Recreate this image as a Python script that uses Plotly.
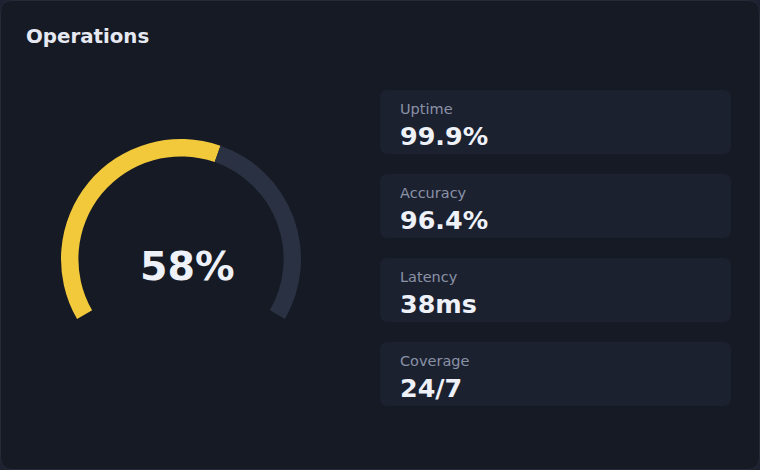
import plotly.graph_objects as go

# ---- data ----
title_text = "Operations"
gauge_value = 58          # percent
gauge_max = 100
stat_labels = ["Uptime", "Accuracy", "Latency", "Coverage"]
stat_values = ["99.9%", "96.4%", "38ms", "24/7"]

# ---- style ----
W, H = 760, 470
PAGE_BG = "#1d2130"
CARD_BG = "#161a24"
CARD_BORDER = "#242a38"
TILE_BG = "#1c2130"
YELLOW = "#f2c93b"
TRACK = "#2a3142"
TITLE_C = "#e6e9f2"
LABEL_C = "#8a92a6"
VALUE_C = "#eef1f8"
FONT = "DejaVu Sans"

SWEEP = 240.0  # degrees of the gauge arc


def px(x):
    return x / W


def py(y):
    return 1 - y / H


def rrect(x0, y0, x1, y1, r):
    # rounded rectangle path in paper coords, given pixel coords
    pts = []
    pts.append(f"M {px(x0 + r)} {py(y0)}")
    pts.append(f"L {px(x1 - r)} {py(y0)}")
    pts.append(f"Q {px(x1)} {py(y0)} {px(x1)} {py(y0 + r)}")
    pts.append(f"L {px(x1)} {py(y1 - r)}")
    pts.append(f"Q {px(x1)} {py(y1)} {px(x1 - r)} {py(y1)}")
    pts.append(f"L {px(x0 + r)} {py(y1)}")
    pts.append(f"Q {px(x0)} {py(y1)} {px(x0)} {py(y1 - r)}")
    pts.append(f"L {px(x0)} {py(y0 + r)}")
    pts.append(f"Q {px(x0)} {py(y0)} {px(x0 + r)} {py(y0)}")
    pts.append("Z")
    return " ".join(pts)


fig = go.Figure()

# gauge as a donut: value, remainder, invisible gap
gap = gauge_max * (360.0 - SWEEP) / SWEEP
cx, cy, R = 181, 259, 120
fig.add_trace(go.Pie(
    values=[gauge_value, gauge_max - gauge_value, gap],
    marker=dict(colors=[YELLOW, TRACK, "rgba(0,0,0,0)"], line=dict(width=0)),
    hole=0.855,
    sort=False,
    direction="clockwise",
    rotation=-SWEEP / 2,
    textinfo="none",
    hoverinfo="skip",
    showlegend=False,
    domain=dict(x=[px(cx - R), px(cx + R)], y=[py(cy + R), py(cy - R)]),
))

shapes = []
# main card
shapes.append(dict(type="path", xref="paper", yref="paper",
                   path=rrect(0.5, 0.5, W - 0.5, H - 0.5, 12),
                   fillcolor=CARD_BG, line=dict(color=CARD_BORDER, width=1),
                   layer="below"))

annotations = []
annotations.append(dict(text=f"<b>{title_text}</b>", x=px(24), y=py(36),
                        xref="paper", yref="paper", xanchor="left", yanchor="middle",
                        showarrow=False, font=dict(family=FONT, size=19.8, color=TITLE_C)))
annotations.append(dict(text=f"<b>{gauge_value}%</b>", x=px(187), y=py(266),
                        xref="paper", yref="paper", xanchor="center", yanchor="middle",
                        showarrow=False, font=dict(family=FONT, size=39.5, color=VALUE_C)))

tile_x0, tile_x1 = 380, 731
tile_top0, tile_h, tile_step = 90, 64, 84
for i, (lab, val) in enumerate(zip(stat_labels, stat_values)):
    t = tile_top0 + i * tile_step
    shapes.append(dict(type="path", xref="paper", yref="paper",
                       path=rrect(tile_x0, t, tile_x1, t + tile_h, 8),
                       fillcolor=TILE_BG, line=dict(width=0), layer="below"))
    annotations.append(dict(text=lab, x=px(398), y=py(t + 19),
                            xref="paper", yref="paper", xanchor="left", yanchor="middle",
                            showarrow=False, font=dict(family=FONT, size=14.5, color=LABEL_C)))
    annotations.append(dict(text=f"<b>{val}</b>", x=px(398), y=py(t + 46),
                            xref="paper", yref="paper", xanchor="left", yanchor="middle",
                            showarrow=False, font=dict(family=FONT, size=25.4, color=VALUE_C)))

fig.update_layout(
    width=W, height=H,
    margin=dict(l=0, r=0, t=0, b=0),
    paper_bgcolor=PAGE_BG,
    plot_bgcolor=PAGE_BG,
    shapes=shapes,
    annotations=annotations,
    showlegend=False,
    font=dict(family=FONT),
)

fig.write_html(
    "out.html",
    config={"displayModeBar": False},
    post_script="document.body.style.margin='0';document.body.style.overflow='hidden';"
                f"document.body.style.background='{PAGE_BG}';",
)
